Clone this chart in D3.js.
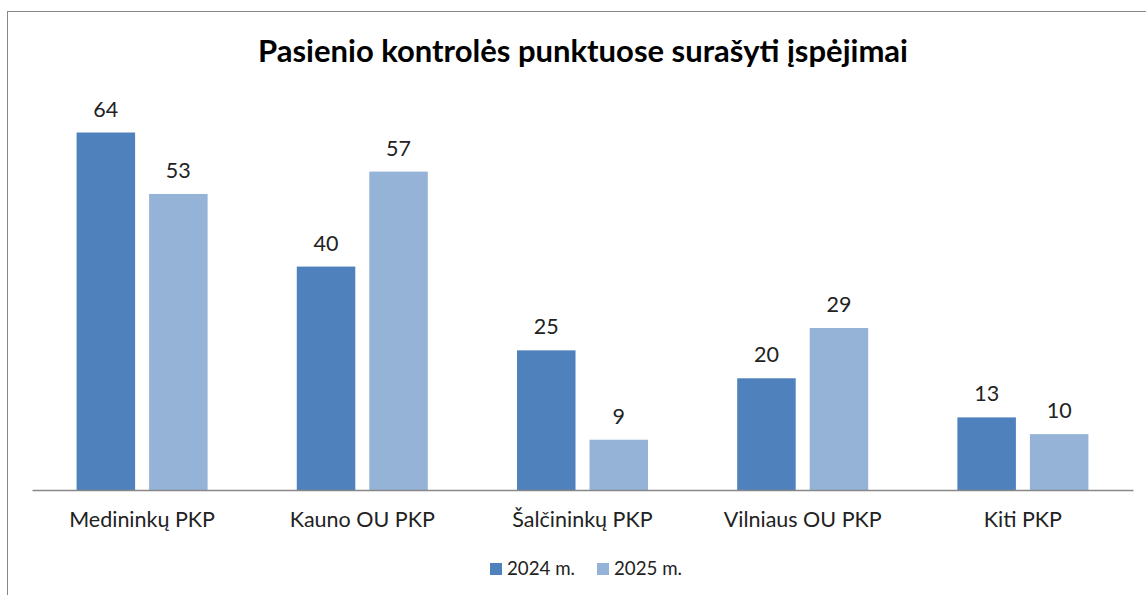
<!DOCTYPE html>
<html>
<head>
<meta charset="utf-8">
<script src="https://cdn.jsdelivr.net/npm/d3@7"></script>
<style>
  body { margin: 0; background: #fff; }
  svg text { font-family: Lato, "Open Sans", sans-serif; fill: #000; }
</style>
</head>
<body>
<div id="chart"></div>
<script>
const categories = ["Medininkų PKP", "Kauno OU PKP", "Šalčininkų PKP", "Vilniaus OU PKP", "Kiti PKP"]
const seriesNames = ["2024 m.", "2025 m."]
const values2024 = [64, 40, 25, 20, 13]
const values2025 = [53, 57, 9, 29, 10]
const colors = ["#4F81BD", "#95B3D7"]

let width = 1146, height = 595
let margin = {top: 99, left: 32, right: 13, bottom: 105}

let svg = d3.select("#chart")
  .append("svg")
    .attr("width", width)
    .attr("height", height)

// outer chart frame (right and bottom edges fall outside the picture)
svg.append("rect")
  .attr("x", 7.5).attr("y", 11.5)
  .attr("width", width + 20).attr("height", height + 20)
  .attr("fill", "none")
  .attr("stroke", "#888")
  .attr("stroke-width", 1)

svg.append("text")
  .text("Pasienio kontrolės punktuose surašyti įspėjimai")
  .attr("x", 583).attr("y", 62)
  .attr("text-anchor", "middle")
  .style("font-size", "31px")
  .style("font-weight", "bold")

let data = categories.map((c, i) => ({cat: c, vals: [values2024[i], values2025[i]]}))

let x = d3.scaleBand()
  .domain(categories)
  .range([margin.left, width - margin.right])
  .paddingInner(0.405)
  .paddingOuter(0.2025)

let xSub = d3.scaleBand()
  .domain([0, 1])
  .range([0, x.bandwidth()])
  .paddingInner(0.193)

let y = d3.scaleLinear()
  .domain([0, 70])
  .range([height - margin.bottom, margin.top])

let groups = svg.append("g")
  .selectAll("g")
  .data(data)
  .join("g")
  .attr("transform", d => `translate(${x(d.cat)},0)`)

groups.selectAll("rect")
  .data(d => d.vals.map((v, k) => ({k: k, v: v})))
  .join("rect")
  .attr("x", d => xSub(d.k))
  .attr("y", d => y(d.v))
  .attr("width", xSub.bandwidth())
  .attr("height", d => y(0) - y(d.v))
  .attr("fill", d => colors[d.k])

groups.selectAll("text.val")
  .data(d => d.vals.map((v, k) => ({k: k, v: v})))
  .join("text")
  .attr("class", "val")
  .attr("x", d => xSub(d.k) + xSub.bandwidth() / 2)
  .attr("y", d => y(d.v) - 16)
  .attr("text-anchor", "middle")
  .style("font-size", "21.5px")
  .style("fill", "#222")
  .text(d => d.v)

let xAxis = svg.append("g")
  .attr("transform", `translate(0,${y(0)})`)
  .call(d3.axisBottom(x).tickSize(0).tickPadding(22).tickSizeOuter(0))
xAxis.select(".domain").attr("stroke", "#888").attr("stroke-width", 1.5)
xAxis.selectAll("text")
  .style("font-size", "21.5px")
  .style("fill", "#222")

// legend
let legend = svg.append("g")
  .selectAll("g")
  .data(seriesNames)
  .join("g")
  .attr("transform", (d, i) => `translate(${490 + i * 107},563)`)

legend.append("rect")
  .attr("width", 12).attr("height", 12)
  .attr("fill", (d, i) => colors[i])

legend.append("text")
  .attr("x", 17).attr("y", 12)
  .style("font-size", "18.7px")
  .style("fill", "#222")
  .text(d => d)
</script>
</body>
</html>
